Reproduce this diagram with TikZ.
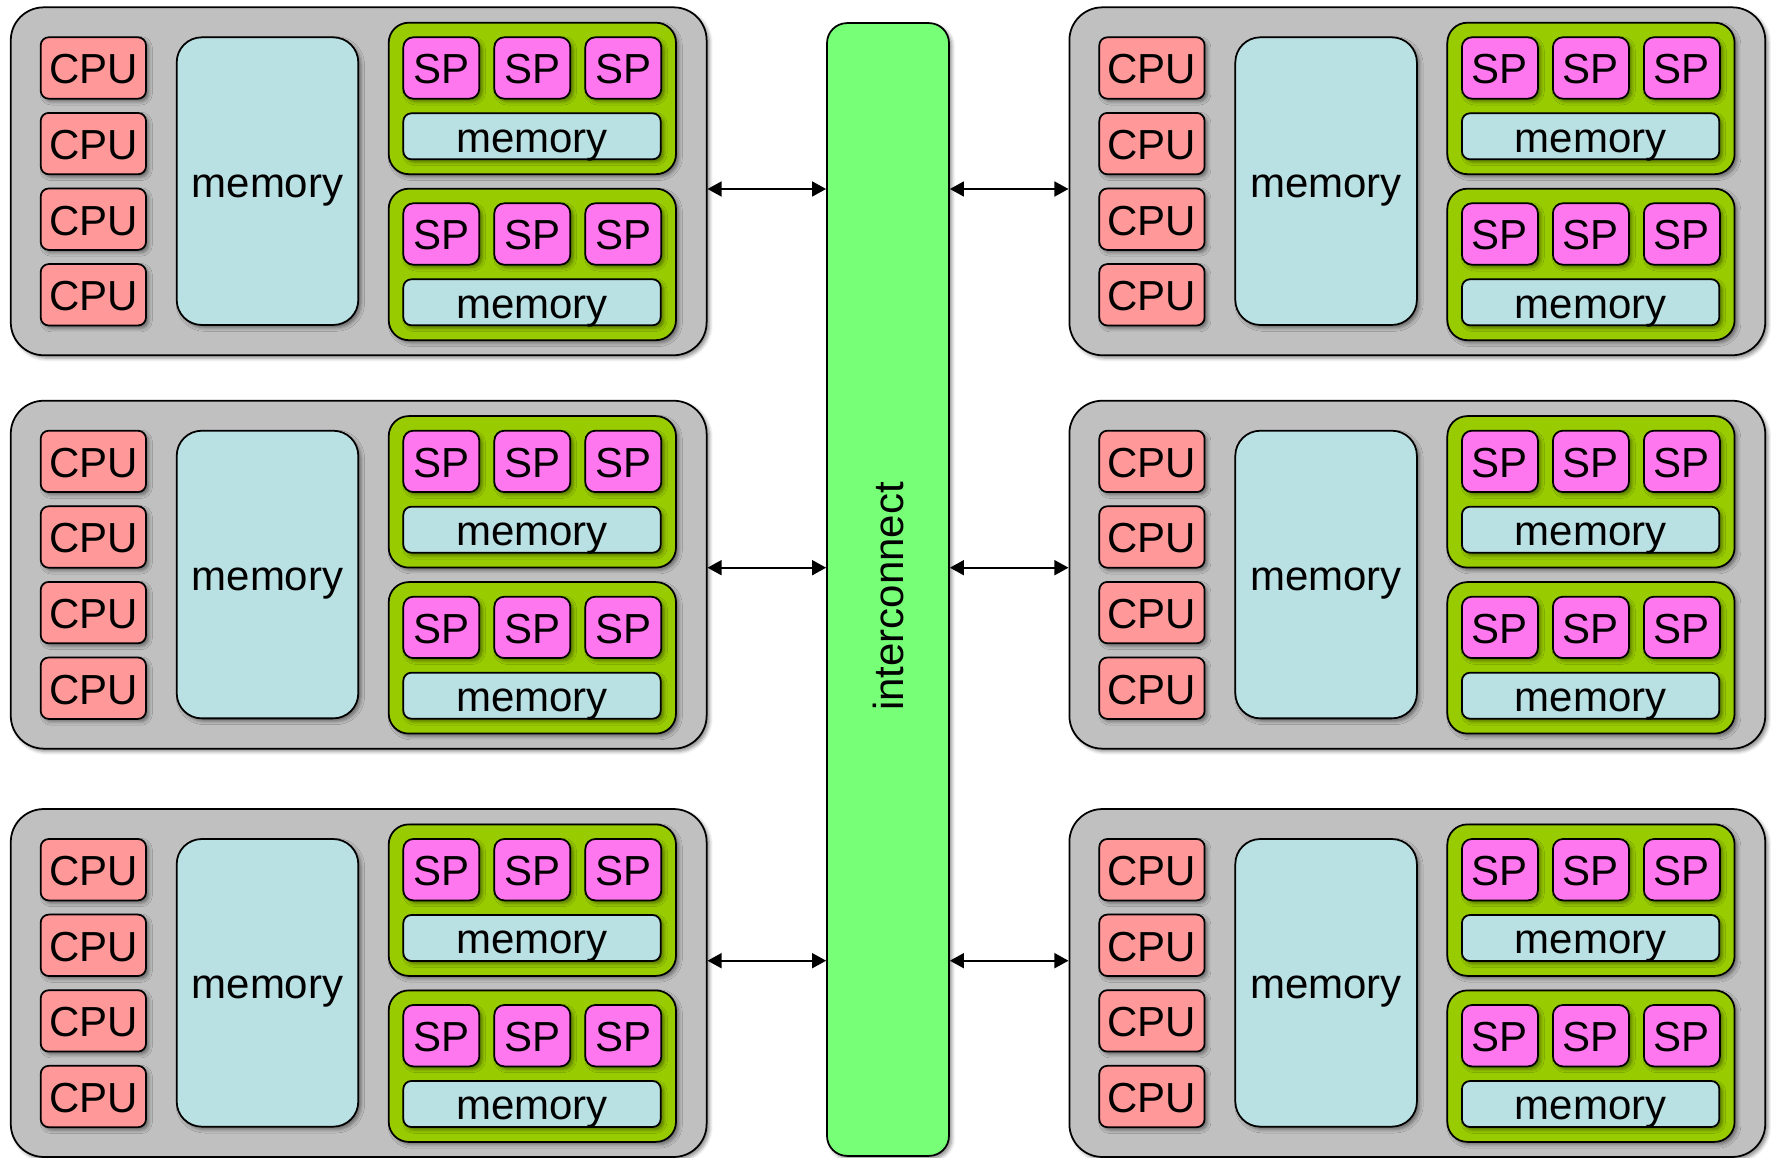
\documentclass[tikz,border=0pt]{standalone}
\usepackage{fontspec}
\usepackage{graphicx}
\setmainfont{Liberation Sans}
\usetikzlibrary{arrows.meta,calc,shadows.blur}

\definecolor{boardgray}{RGB}{192,192,192}
\definecolor{cpured}{RGB}{255,153,153}
\definecolor{memcyan}{RGB}{185,224,227}
\definecolor{sppink}{RGB}{255,119,238}
\definecolor{gpugreen}{RGB}{153,204,0}
\definecolor{netgreen}{RGB}{119,255,119}

\tikzset{
  unit/.style={draw=black, line width=1pt, inner sep=0pt,
    font=\fontsize{23.9}{28}\selectfont,
    blur shadow={shadow xshift=1.6pt, shadow yshift=-1.6pt, shadow blur radius=2pt, shadow opacity=45}},
  labelled/.style={unit, text height=18.2pt, text depth=0pt},
  board/.style={unit, fill=boardgray, rounded corners=0.66cm, minimum width=13.92cm, minimum height=6.96cm},
  cpu/.style={labelled, fill=cpured, rounded corners=0.16cm, minimum width=2.106cm, minimum height=1.228cm},
  bigmem/.style={labelled, fill=memcyan, rounded corners=0.5cm, minimum width=3.632cm, minimum height=5.754cm},
  gpu/.style={unit, fill=gpugreen, rounded corners=0.4cm, minimum width=5.746cm, minimum height=3.03cm},
  sp/.style={labelled, fill=sppink, rounded corners=0.2cm, minimum width=1.52cm, minimum height=1.228cm},
  gpumem/.style={labelled, fill=memcyan, rounded corners=0.16cm, minimum width=5.148cm, minimum height=0.92cm},
  network/.style={unit, fill=netgreen, rounded corners=0.4cm, minimum width=2.44cm, minimum height=22.66cm},
  link/.style={{Triangle[length=8pt,width=8.5pt]}-{Triangle[length=8pt,width=8.5pt]}, line width=1.1pt},
}

% one cluster node: board, four CPUs, shared memory, two GPUs
\newcommand{\cluster}[3]{%
  \node[board] (#1) at (#2+348, #3+174) {};
  \foreach \k in {0,...,3}
    \node[cpu] (#1-cpu\k) at (#2+82.65, #3+60.7+75.6*\k) {CPU};
  \node[bigmem] (#1-mem) at (#2+256.8, #3+173.85) {memory};
  \foreach \g in {0,1} {
    \node[gpu] (#1-gpu\g) at (#2+521.65, #3+91.15+166*\g) {};
    \foreach \i in {0,1,2}
      \node[sp] (#1-sp\g\i) at (#2+430.6+91*\i, #3+60.7+166*\g) {SP};
    \node[gpumem] (#1-gmem\g) at (#2+521.3, #3+129+166*\g) {memory};
  }
}

\begin{document}
\begin{tikzpicture}[x=0.02cm, y=-0.02cm]
  \useasboundingbox (0,0) rectangle (1771,1158);

  % Interconnect
  \node[network] (ic) at (888,589.5) {\rotatebox{90}{interconnect\hspace{0.28cm}}};

  % Clusters, left column
  \cluster{tl}{10.7}{7.3}
  \cluster{ml}{10.7}{400.7}
  \cluster{bl}{10.7}{809}

  % Clusters, right column
  \cluster{tr}{1069.3}{7.3}
  \cluster{mr}{1069.3}{400.7}
  \cluster{br}{1069.3}{809}

  % Links to the interconnect
  \foreach \m/\dy in {tl/7.7, ml/-7, bl/-22.3} {
    \coordinate (\m-link) at ($(\m.east)+(0,\dy)$);
    \draw[link] (\m-link) -- (\m-link -| ic.west);
  }
  \foreach \m/\dy in {tr/7.7, mr/-7, br/-22.3} {
    \coordinate (\m-link) at ($(\m.west)+(0,\dy)$);
    \draw[link] (\m-link -| ic.east) -- (\m-link);
  }
\end{tikzpicture}
\end{document}
